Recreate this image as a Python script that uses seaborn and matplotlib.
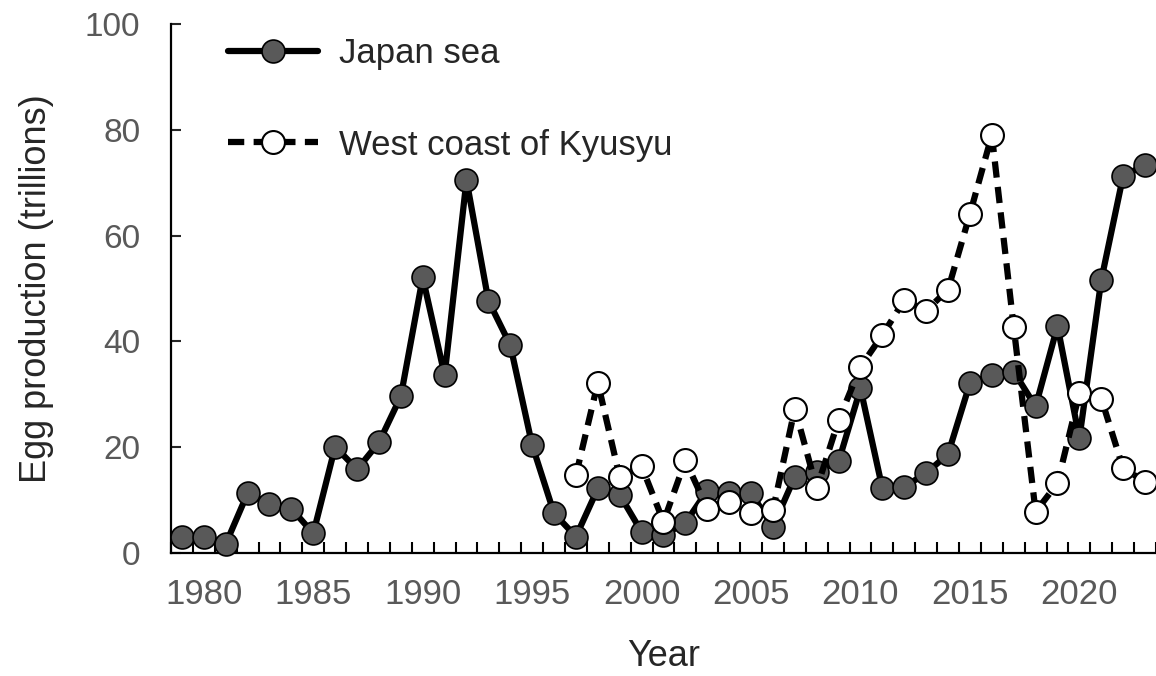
import numpy as np
import pandas as pd
import matplotlib
matplotlib.use("Agg")
import matplotlib.pyplot as plt
from matplotlib.ticker import FixedLocator
import seaborn as sns

# values
japan_years = list(range(1979, 2024))
japan_sea = [3.1, 3.1, 1.7, 11.3, 9.3, 8.4, 3.7, 20.1, 15.8, 20.9,
             29.6, 52.1, 33.6, 70.5, 47.7, 39.3, 20.4, 7.5, 3.1, 12.2,
             11.0, 4.0, 3.4, 5.7, 11.8, 11.3, 11.3, 5.0, 14.4, 15.4,
             17.3, 31.1, 12.2, 12.5, 15.1, 18.7, 32.1, 33.6, 34.3, 27.7,
             42.9, 21.7, 51.6, 71.3, 73.3]

kyusyu_years = list(range(1997, 2024))
kyusyu = [14.7, 32.2, 14.3, 16.4, 5.9, 17.5, 8.4, 9.7, 7.6, 8.1,
          27.3, 12.2, 25.1, 35.2, 41.2, 47.8, 45.8, 49.8, 64.1, 79.0,
          42.7, 7.8, 13.2, 30.2, 29.2, 16.0, 13.5]

year_ticks = [1980, 1985, 1990, 1995, 2000, 2005, 2010, 2015, 2020]
y_ticks = [0, 20, 40, 60, 80, 100]

df_js = pd.DataFrame({"Year": japan_years, "Egg": japan_sea})
df_ky = pd.DataFrame({"Year": kyusyu_years, "Egg": kyusyu})

sns.set_style("ticks")
plt.rcParams["font.family"] = ["Liberation Sans", "DejaVu Sans"]

fig = plt.figure(figsize=(11.56, 6.76), dpi=100)
ax = fig.add_axes([171 / 1156, 123 / 676, 985 / 1156, 529 / 676])

sns.lineplot(data=df_js, x="Year", y="Egg", ax=ax, color="black",
             linewidth=4.5, marker="o", markersize=16.5,
             markerfacecolor="#595959", markeredgecolor="black",
             markeredgewidth=1.2, label="Japan sea", clip_on=False, zorder=3)
sns.lineplot(data=df_ky, x="Year", y="Egg", ax=ax, color="black",
             linewidth=4.5, linestyle=(0, (2.6, 1.5)), marker="o",
             markersize=16.5, markerfacecolor="white",
             markeredgecolor="black", markeredgewidth=1.5,
             label="West coast of Kyusyu", clip_on=False, zorder=4)

ax.set_xlim(1978.5, 2023.5)
ax.set_ylim(0, 100)
ax.set_xticks(year_ticks)
ax.set_xticklabels([str(y) for y in year_ticks])
ax.xaxis.set_minor_locator(FixedLocator(np.arange(1978.5, 2024, 1)))
ax.set_yticks(y_ticks)

ax.tick_params(axis="x", which="major", length=0, pad=18,
               labelsize=25, labelcolor="#595959")
ax.tick_params(axis="x", which="minor", direction="in", length=8,
               width=1.5, color="black")
ax.tick_params(axis="y", direction="in", length=7, width=1.5,
               pad=22, labelsize=24, labelcolor="#595959")

for side in ["top", "right"]:
    ax.spines[side].set_visible(False)
for side in ["left", "bottom"]:
    ax.spines[side].set_linewidth(1.6)
    ax.spines[side].set_color("black")

ax.set_xlabel("Year", fontsize=26, labelpad=20)
ax.set_ylabel("Egg production (trillions)", fontsize=26, labelpad=22)

leg = ax.legend(loc="upper left", bbox_to_anchor=(0.058, 0.975),
                frameon=False, fontsize=25, handlelength=2.6,
                handletextpad=0.6, labelspacing=1.68,
                borderpad=0, borderaxespad=0)

fig.savefig("out.png", dpi=100)
